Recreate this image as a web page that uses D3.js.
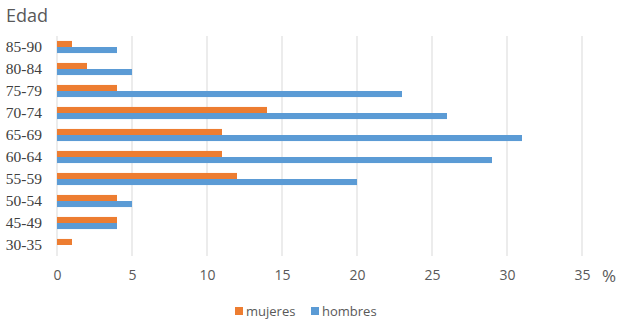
<!DOCTYPE html>
<html>
<head>
<meta charset="utf-8">
<script src="https://cdn.jsdelivr.net/npm/d3@7"></script>
<style>
  body { margin: 0; background: #fff; }
  svg { display: block; }
</style>
</head>
<body>
<div id="chart"></div>
<script>
// Age groups, listed top to bottom as in the chart
const ageGroups = ["85-90", "80-84", "75-79", "70-74", "65-69", "60-64", "55-59", "50-54", "45-49", "30-35"]
const mujeres = [1, 2, 4, 14, 11, 11, 12, 4, 4, 1]
const hombres = [4, 5, 23, 26, 31, 29, 20, 5, 4, 0]
const seriesNames = ["mujeres", "hombres"]
const xTicks = [0, 5, 10, 15, 20, 25, 30, 35]

const colors = { mujeres: "#ED7D31", hombres: "#5B9BD5" }

const dimensions = {
  width: 624,
  height: 333,
  margin: { top: 36, right: 42, bottom: 77, left: 57 },
}
dimensions.boundedWidth = dimensions.width - dimensions.margin.left - dimensions.margin.right
dimensions.boundedHeight = dimensions.height - dimensions.margin.top - dimensions.margin.bottom

const rows = ageGroups.map((g, i) => ({ group: g, mujeres: mujeres[i], hombres: hombres[i] }))

const svg = d3.select("#chart").append("svg")
    .attr("width", dimensions.width)
    .attr("height", dimensions.height)

const bounds = svg.append("g")
    .attr("transform", `translate(${dimensions.margin.left},${dimensions.margin.top})`)

const xScale = d3.scaleLinear()
    .domain([0, 35])
    .range([0, dimensions.boundedWidth])

const yScale = d3.scaleBand()
    .domain(ageGroups)
    .range([0, dimensions.boundedHeight])
    .paddingInner(0.45)
    .paddingOuter(0.225)

const ySub = d3.scaleBand()
    .domain(seriesNames)
    .range([0, yScale.bandwidth()])

// Vertical gridlines
bounds.append("g")
  .selectAll("line")
  .data(xTicks)
  .join("line")
    .attr("x1", d => xScale(d))
    .attr("x2", d => xScale(d))
    .attr("y1", 0)
    .attr("y2", dimensions.boundedHeight)
    .attr("stroke", "#d9d9d9")
    .attr("stroke-width", 1)

// Bars
const groups = bounds.append("g")
  .selectAll("g")
  .data(rows)
  .join("g")
    .attr("transform", d => `translate(0,${yScale(d.group)})`)

groups.selectAll("rect")
  .data(d => seriesNames.map(s => ({ key: s, value: d[s] })))
  .join("rect")
    .attr("x", xScale(0))
    .attr("y", d => ySub(d.key))
    .attr("width", d => xScale(d.value) - xScale(0))
    .attr("height", ySub.bandwidth())
    .attr("fill", d => colors[d.key])

// X axis labels
const xAxis = bounds.append("g")
    .attr("transform", `translate(0,${dimensions.boundedHeight})`)
    .call(d3.axisBottom(xScale).tickValues(xTicks).tickSize(0).tickPadding(14))
xAxis.select(".domain").remove()
xAxis.selectAll("text")
    .style("font-family", "'Open Sans', sans-serif")
    .style("font-size", "14px")
    .attr("fill", "#595959")

bounds.append("text")
    .attr("x", xScale(35) + 27)
    .attr("y", dimensions.boundedHeight + 26)
    .attr("text-anchor", "middle")
    .style("font-family", "'Open Sans', sans-serif")
    .style("font-size", "17px")
    .attr("fill", "#595959")
    .text("%")

// Y axis labels (serif in the original)
const yAxis = bounds.append("g")
    .attr("transform", "translate(-15,0)")
    .call(d3.axisLeft(yScale).tickSize(0).tickPadding(0))
yAxis.select(".domain").remove()
yAxis.selectAll("text")
    .style("font-family", "'Liberation Serif', 'DejaVu Serif', serif")
    .style("font-size", "15.5px")
    .attr("fill", "#404040")

// Axis title
svg.append("text")
    .attr("x", 6)
    .attr("y", 22)
    .style("font-family", "'Open Sans', sans-serif")
    .style("font-size", "18px")
    .attr("fill", "#595959")
    .text("Edad")

// Legend
const legendItems = [
  { key: "mujeres", x: 235 },
  { key: "hombres", x: 311 },
]
const legend = svg.append("g")
  .selectAll("g")
  .data(legendItems)
  .join("g")
    .attr("transform", d => `translate(${d.x},307)`)

legend.append("rect")
    .attr("width", 8)
    .attr("height", 8)
    .attr("fill", d => colors[d.key])

legend.append("text")
    .attr("x", 11)
    .attr("y", 9)
    .style("font-family", "'Open Sans', sans-serif")
    .style("font-size", "13px")
    .attr("fill", "#595959")
    .text(d => d.key)
</script>
</body>
</html>
